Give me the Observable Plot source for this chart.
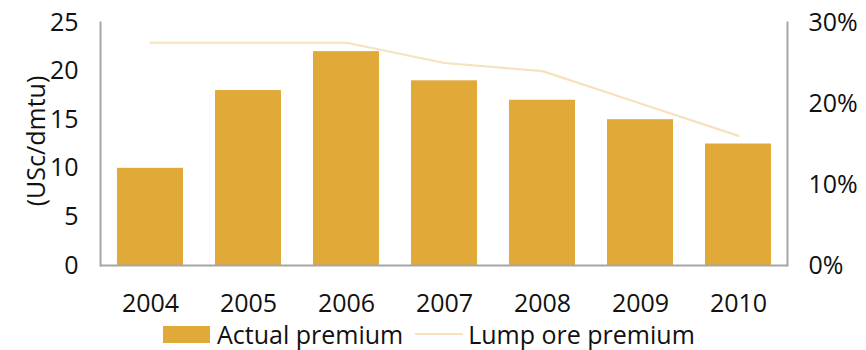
<!DOCTYPE html>
<html>
<head>
<meta charset="utf-8">
<script src="https://cdn.jsdelivr.net/npm/d3@7"></script>
<script src="https://cdn.jsdelivr.net/npm/@observablehq/plot@0.6"></script>
<style>
  html, body { margin: 0; padding: 0; background: #fff; }
  body { position: relative; width: 866px; height: 350px; overflow: hidden; font-family: "Open Sans", sans-serif; }
  svg text { font-stretch: 95%; }
  #legend { position: absolute; left: 163px; top: 319px; display: flex; align-items: center; line-height: 30px; font-size: 25px; font-stretch: 93%; color: #111; white-space: nowrap; }
  #legend .sw-bar { width: 47px; height: 17px; background: #E1A937; margin-right: 7px; flex: none; }
  #legend .sw-line { width: 48px; height: 2px; background: #F6E2BC; margin: 0 5px 0 12px; flex: none; }
</style>
</head>
<body>
<div id="chart"></div>
<div id="legend">
  <span class="sw-bar"></span><span>Actual premium</span>
  <span class="sw-line"></span><span>Lump ore premium</span>
</div>
<script>
const years = ["2004", "2005", "2006", "2007", "2008", "2009", "2010"];
const actualPremium = [10, 18, 22, 19, 17, 15, 12.5];      // USc/dmtu
const lumpOrePremium = [27.5, 27.5, 27.5, 25, 24, 20, 16];  // percent
const leftTicks = [0, 5, 10, 15, 20, 25];
const rightTicks = [0, 10, 20, 30];

const leftMax = 25, rightMax = 30;
const toLeft = p => p * leftMax / rightMax;

const bars = years.map((year, i) => ({year, value: actualPremium[i]}));
const line = years.map((year, i) => ({year, pct: lumpOrePremium[i]}));

const font = "Open Sans, sans-serif";

const chart = Plot.plot({
  width: 866,
  height: 318,
  marginLeft: 100,
  marginRight: 79,
  marginTop: 22,
  marginBottom: 53,
  style: {fontFamily: font, fontSize: "25px", color: "#111", background: "#fff", overflow: "visible"},
  x: {domain: years, paddingInner: 0.33, paddingOuter: 0.165, label: null},
  y: {domain: [0, leftMax], label: null},
  marks: [
    Plot.barY(bars, {x: "year", y: "value", fill: "#E1A937"}),
    Plot.lineY(line, {x: "year", y: d => toLeft(d.pct), stroke: "#F6E2BC", strokeWidth: 2.2}),
    Plot.frame({anchor: "left", stroke: "#A6A6A6", strokeWidth: 2}),
    Plot.frame({anchor: "right", stroke: "#A6A6A6", strokeWidth: 2}),
    Plot.ruleY([0], {stroke: "#A6A6A6", strokeWidth: 2}),
    Plot.axisX({tickSize: 0, tickPadding: 29, label: null, fill: "#111"}),
    Plot.axisY(leftTicks, {anchor: "left", tickSize: 0, tickPadding: 22, label: null, fill: "#111"}),
    Plot.axisY(rightTicks.map(toLeft), {
      anchor: "right", tickSize: 0, tickPadding: 21, label: null, fill: "#111",
      tickFormat: d => Math.round(d * rightMax / leftMax) + "%"
    }),
    Plot.text(["(USc/dmtu)"], {frameAnchor: "left", textAnchor: "middle", dx: -64, dy: -3, rotate: -90, fill: "#111"})
  ]
});
document.getElementById("chart").append(chart);
</script>
</body>
</html>
